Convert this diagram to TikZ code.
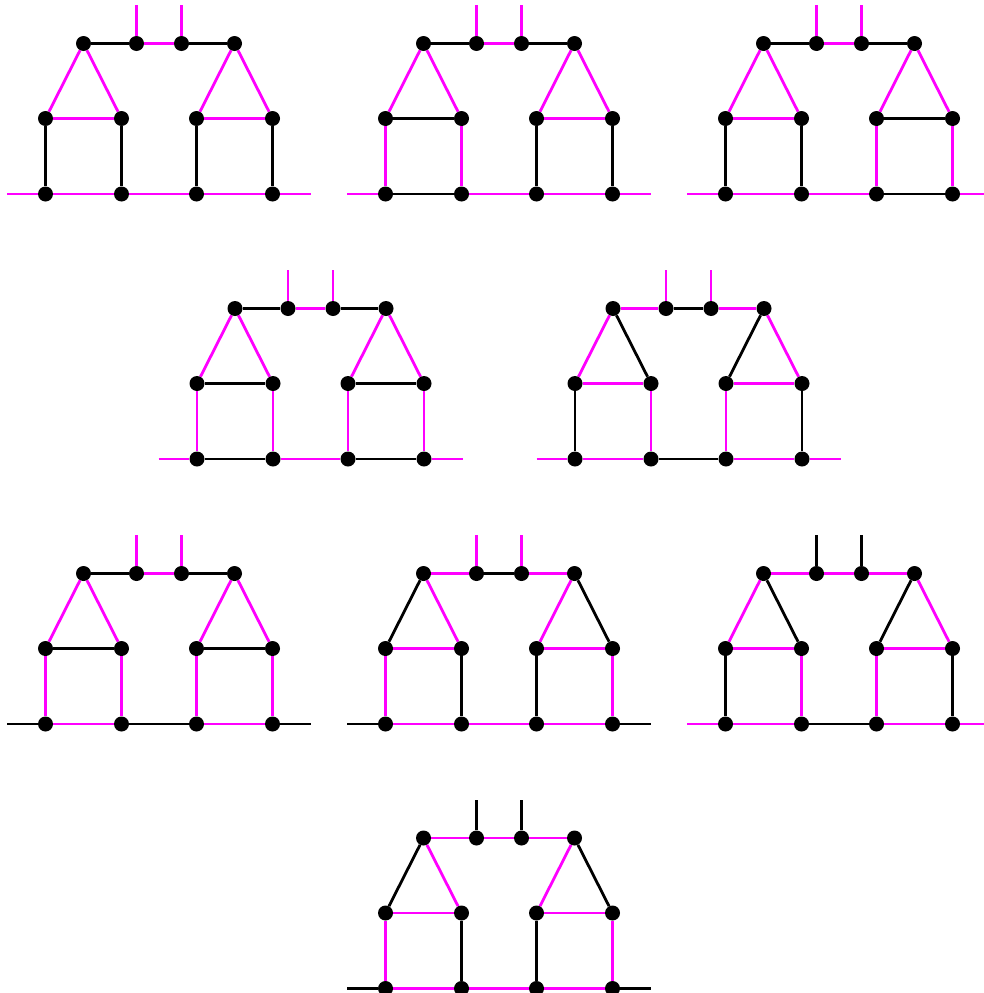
\documentclass[tikz,border=0pt]{standalone}
\definecolor{mag}{RGB}{255,0,255}
\pgfdeclarelayer{edges}
\pgfsetlayers{edges,main}
\tikzset{
  vtx/.style={circle,fill=black,inner sep=0pt,minimum size=15pt},
  edgeline/.style={line width=2.8pt},
}
\makeatletter
\newcommand\pickcol[2]{\edef\pc@tmp{\noexpand\in@{,#1,}{,#2,}}\pc@tmp\ifin@\def\ecol{black}\else\def\ecol{mag}\fi}
\makeatother
% #1 prefix, #2 x offset, #3 y offset, #4 list of black edges
\newcommand\housepanel[4]{%
  \begin{scope}[shift={(#2,#3)}]
    \node[vtx] (#1T1) at (83.5,43.5) {};
    \node[vtx] (#1T2) at (136.5,43.5) {};
    \node[vtx] (#1T3) at (181.5,43.5) {};
    \node[vtx] (#1T4) at (234.5,43.5) {};
    \node[vtx] (#1M1) at (45.5,118.5) {};
    \node[vtx] (#1M2) at (121.5,118.5) {};
    \node[vtx] (#1M3) at (196.5,118.5) {};
    \node[vtx] (#1M4) at (272.5,118.5) {};
    \node[vtx] (#1B1) at (45.5,194) {};
    \node[vtx] (#1B2) at (121.5,194) {};
    \node[vtx] (#1B3) at (196.5,194) {};
    \node[vtx] (#1B4) at (272.5,194) {};
    \coordinate (#1S1) at (136.5,5);
    \coordinate (#1S2) at (181.5,5);
    \coordinate (#1L) at (7,194);
    \coordinate (#1R) at (311,194);
  \end{scope}
  \begin{pgfonlayer}{edges}
    \foreach \u/\v/\id in {T2/S1/s1,T3/S2/s2,T1/T2/t1,T2/T3/t2,T3/T4/t3,
        T1/M1/la,T1/M2/lb,M1/M2/lc,T4/M3/ra,T4/M4/rb,M3/M4/rc,
        M1/B1/v1,M2/B2/v2,M3/B3/v3,M4/B4/v4,
        L/B1/b0,B1/B2/b1,B2/B3/b2,B3/B4/b3,B4/R/b4}{%
      \pickcol{\id}{#4}%
      \draw[edgeline,draw=\ecol] (#1\u) -- (#1\v);
    }
  \end{pgfonlayer}
}
\begin{document}
\begin{tikzpicture}[x=1pt,y=-1pt]
  \useasboundingbox (0,0) rectangle (983,993);
  \housepanel{a}{0}{0}{t1,t3,v1,v2,v3,v4}
  \housepanel{b}{340}{0}{t1,t3,lc,v3,v4,b1}
  \housepanel{c}{680}{0}{t1,t3,rc,v1,v2,b3}
  \housepanel{d}{151.5}{265}{t1,t3,lc,rc,b1,b3}
  \housepanel{e}{529.5}{265}{t2,lb,ra,v1,v4,b2}
  \housepanel{f}{0}{530}{t1,t3,lc,rc,b0,b2,b4}
  \housepanel{g}{340}{530}{t2,la,rb,v2,v3,b0,b4}
  \housepanel{h}{680}{530}{s1,s2,lb,ra,v1,v4,b2}
  \housepanel{i}{340}{794.5}{s1,s2,la,rb,v2,v3,b0,b4}
\end{tikzpicture}
\end{document}
